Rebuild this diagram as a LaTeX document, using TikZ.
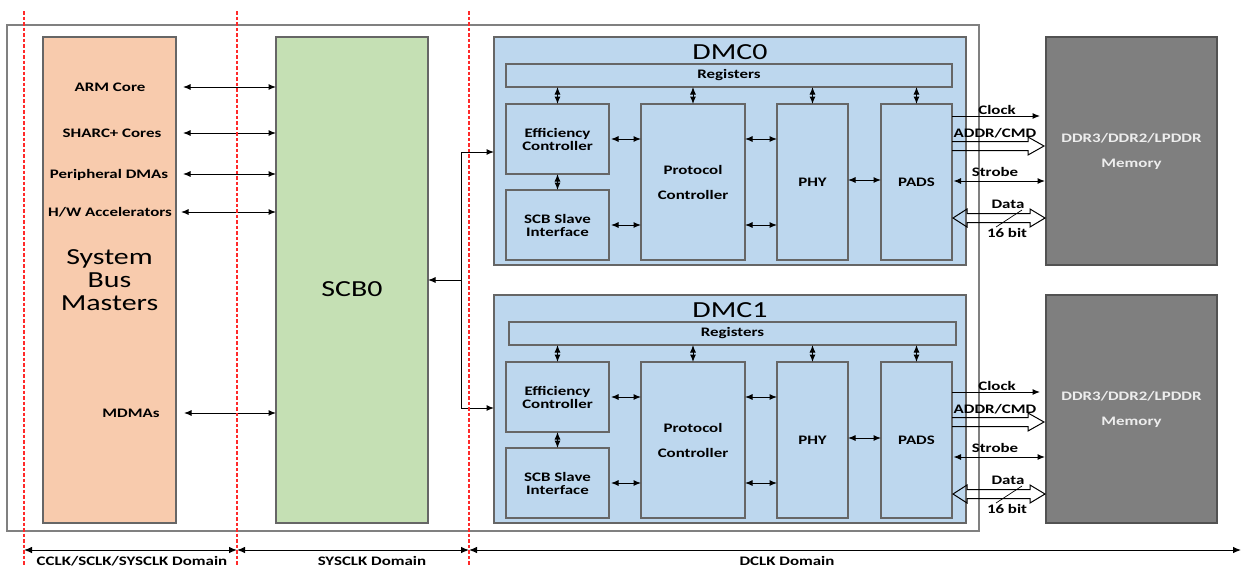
\documentclass[tikz,border=0pt]{standalone}
\usepackage{fontspec}
\setmainfont{Carlito}[FakeStretch=1.3]
\usetikzlibrary{arrows.meta}
\definecolor{orangef}{HTML}{F8CBAD}
\definecolor{greenf}{HTML}{C5E0B4}
\definecolor{bluef}{HTML}{BDD7EE}
\definecolor{memf}{HTML}{7F7F7F}
\definecolor{bord}{HTML}{666666}
\definecolor{memtxt}{HTML}{EDEDED}
\definecolor{redline}{HTML}{FF2A2A}
\definecolor{framec}{HTML}{808080}
\newcommand\bx[7]{\node[#6, minimum width={((#4)-(#2))*1pt}, minimum height={((#5)-(#3))*1pt}] (#1) at ({((#2)+(#4))/2},{((#3)+(#5))/2}) {#7};}
\begin{document}
\begin{tikzpicture}[x=1pt,y=-1pt,
  box/.style={draw=bord, line width=1.3pt, inner sep=0pt, outer sep=0pt, align=center},
  sm/.style={font=\fontsize{13}{13}\selectfont\bfseries},
  big/.style={font=\fontsize{23}{23}\selectfont},
  dbl/.style={{Latex[length=7.5pt,width=6pt]}-{Latex[length=7.5pt,width=6pt]}, line width=1pt},
  one/.style={-{Latex[length=7.5pt,width=6pt]}, line width=1pt},
  hollow/.style={draw=black, line width=1pt, line join=miter},
  reddash/.style={draw=redline, line width=1.1pt, dash pattern=on 3.5pt off 2pt},
  domarr/.style={{Latex[length=8pt,width=6.5pt]}-{Latex[length=8pt,width=6.5pt]}, line width=1pt}
]
\useasboundingbox (0,0) rectangle (1241,566);
% outer frame
\draw[framec, line width=1.1pt] (7,25) rectangle (979,531);

% System bus masters and SCB0
\bx{sbm}{43}{37}{176}{523}{box, fill=orangef, big}{System\\Bus\\Masters}
\bx{scb}{276}{37}{428}{523}{box, fill=greenf}{}
\node[big, anchor=base] (scbl) at (352,296.5) {SCB0};

% master labels and arrows
\coordinate (yarm) at (0,87);
\coordinate (ysharc) at (0,133);
\coordinate (yper) at (0,174);
\coordinate (yhw) at (0,212);
\coordinate (ymd) at (0,413);
\node[sm, anchor=base] (arm) at (110,91) {ARM Core};
\node[sm, anchor=base] (sharc) at (112,137) {SHARC+ Cores};
\node[sm, anchor=base] (per) at (109,178) {Peripheral DMAs};
\node[sm, anchor=base] (hw) at (110,216) {H/W Accelerators};
\node[sm, anchor=base] (md) at (131,417) {MDMAs};
\draw[dbl, shorten <=7pt] (sbm.east |- yarm) -- (scb.west |- yarm);
\draw[dbl, shorten <=7pt] (sbm.east |- ysharc) -- (scb.west |- ysharc);
\draw[dbl, shorten <=7pt] (sbm.east |- yper) -- (scb.west |- yper);
\draw[dbl, shorten <=5pt] (sbm.east |- yhw) -- (scb.west |- yhw);
\draw[dbl, shorten <=8pt] (sbm.east |- ymd) -- (scb.west |- ymd);

% DMCs
\foreach \i/\dy/\sy/\ra/\rb in {0/0/0/506/952, 1/258/276/509/956}{
  \bx{dmc\i}{494}{37+\dy}{966}{265+\dy}{box, fill=bluef}{}
  \node[big, anchor=base] (dmct\i) at (730,59+\dy) {DMC\i};
  \bx{reg\i}{\ra}{64+\dy}{\rb}{87+\dy}{box, fill=bluef, sm}{Registers}
  \bx{eff\i}{506}{104+\dy}{609}{174+\dy}{box, fill=bluef, sm}{Efficiency\\Controller}
  \bx{slv\i}{506}{190+\dy}{609}{260+\dy}{box, fill=bluef, sm}{SCB Slave\\Interface}
  \bx{prot\i}{641}{104+\dy}{745}{260+\dy}{box, fill=bluef, sm}{Protocol\\[12pt]Controller}
  \bx{phy\i}{777}{104+\dy}{848}{260+\dy}{box, fill=bluef, sm}{PHY}
  \bx{pads\i}{881}{104+\dy}{952}{260+\dy}{box, fill=bluef, sm}{PADS}
  \bx{mem\i}{1046}{37+\dy}{1217}{265+\dy}{box, draw=bord!80!black, fill=memf, sm, text=memtxt}{DDR3/DDR2/LPDDR\\[12pt]Memory}
  % internal connectors
  \draw[dbl] (reg\i.south -| eff\i) -- (eff\i.north);
  \draw[dbl] (reg\i.south -| prot\i) -- (prot\i.north);
  \draw[dbl] (reg\i.south -| phy\i) -- (phy\i.north);
  \draw[dbl] (reg\i.south -| pads\i) -- (pads\i.north);
  \draw[dbl] (eff\i.south) -- (slv\i.north);
  \draw[dbl, shorten <=2pt] (eff\i.east) -- (prot\i.west |- eff\i.east);
  \draw[dbl, shorten <=2pt] (slv\i.east) -- (prot\i.west |- slv\i.east);
  \draw[dbl] (prot\i.east |- eff\i.east) -- (phy\i.west |- eff\i.east);
  \draw[dbl] (prot\i.east |- slv\i.east) -- (phy\i.west |- slv\i.east);
  \coordinate (pp\i) at (0,180+\dy);
  \draw[dbl] (phy\i.east |- pp\i) -- (pads\i.west |- pp\i);
  % external signals
  \coordinate (ck\i) at (0,116+\sy);
  \coordinate (st\i) at (0,181+\sy);
  \draw[one, shorten >=6pt] (pads\i.east |- ck\i) -- (mem\i.west |- ck\i);
  \node[sm, anchor=base] (lck\i) at (997,114+\sy) {Clock};
  \draw[hollow] (952,141.5+\sy) -- (1028,141.5+\sy) -- (1028,137+\sy) -- (1044,146+\sy) -- (1028,155+\sy) -- (1028,150.5+\sy) -- (952,150.5+\sy);
  \node[sm, anchor=base] (lad\i) at (995,137+\sy) {ADDR/CMD};
  \draw[dbl, shorten <=1.5pt, shorten >=1pt] (pads\i.east |- st\i) -- (mem\i.west |- st\i);
  \node[sm, anchor=base] (lst\i) at (995,176+\sy) {Strobe};
  \draw[hollow] (953,218+\sy) -- (967,209+\sy) -- (967,213.5+\sy) -- (1030,213.5+\sy) -- (1030,209+\sy) -- (1045,218+\sy) -- (1030,227+\sy) -- (1030,222.5+\sy) -- (967,222.5+\sy) -- (967,227+\sy) -- cycle;
  \node[sm, anchor=base] (ldt\i) at (1008,208+\sy) {Data};
  \node[sm, anchor=base] (lbt\i) at (1007,237+\sy) {16 bit};
  \draw[line width=0.7pt] (996,227+\sy) -- (1022,210+\sy);
}

% SCB0 to DMC bus
\coordinate (bus) at (461,280);
\coordinate (e0) at (0,152);
\coordinate (e1) at (0,408);
\draw[one] (bus) -- (scb.east |- bus);
\draw[one] (bus) |- (dmc0.west |- e0);
\draw[one] (bus) |- (dmc1.west |- e1);

% clock domains
\coordinate (d0) at (24,550);
\coordinate (d1) at (237,550);
\coordinate (d2) at (469,550);
\coordinate (d3) at (1241,550);
\draw[domarr] (d0) -- (d1);
\draw[domarr] (d1) -- (d2);
\draw[domarr] (d2) -- (d3);
\node[sm, anchor=base] (dom0) at (132,565) {CCLK/SCLK/SYSCLK Domain};
\node[sm, anchor=base] (dom1) at (372,565) {SYSCLK Domain};
\node[sm, anchor=base] (dom2) at (787,565) {DCLK Domain};

% red dashed boundaries
\draw[reddash] (24,11) -- (24,566);
\draw[reddash] (237,11) -- (237,566);
\draw[reddash] (469,11) -- (469,566);
\end{tikzpicture}
\end{document}
